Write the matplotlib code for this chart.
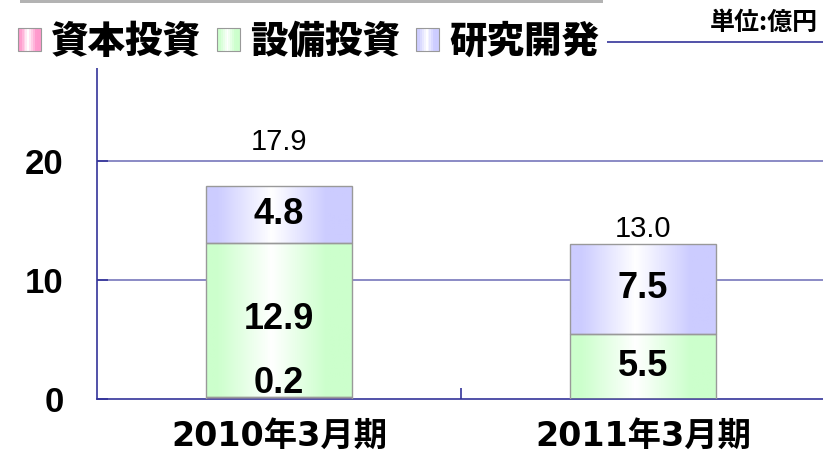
import numpy as np
import matplotlib
matplotlib.use("Agg")
import matplotlib.pyplot as plt
from matplotlib.patches import Rectangle
from matplotlib.legend_handler import HandlerBase
from matplotlib.colors import to_rgb

# -- Donnees ------------------------------------------------------------------
categories = ["2010年3月期", "2011年3月期"]
series     = ["資本投資", "設備投資", "研究開発"]
capital    = [0.2, 0.0]
equipment  = [12.9, 5.5]
research   = [4.8, 7.5]
totals     = [17.9, 13.0]

colors   = ["#ff99cc", "#ccffcc", "#ccccff"]
JP       = ["Noto Sans CJK JP", "DejaVu Sans"]
CAT      = ["DejaVu Sans", "Noto Sans CJK JP"]
NUM      = ["Liberation Sans", "DejaVu Sans"]
NAVY     = "#333399"
GRID     = "#7777bb"


def gradient_rgb(color, n=64):
    """Degrade horizontal : couleur sur les bords, blanc vers le centre."""
    x = np.linspace(0, 1, n)
    s = np.clip(np.abs(x - 0.45) / 0.38, 0, 1)
    c = np.array(to_rgb(color))
    return 1 - s[:, None] * (1 - c[None, :])


class GradientHandler(HandlerBase):
    def create_artists(self, legend, orig_handle, xdescent, ydescent,
                       width, height, fontsize, trans):
        side = min(width, height)
        x0 = -xdescent + (width - side) / 2
        y0 = -ydescent + (height - side) / 2
        cols = gradient_rgb(orig_handle.get_facecolor(), 12)
        arts = []
        for i, c in enumerate(cols):
            arts.append(Rectangle((x0 + i * side / len(cols), y0), side / len(cols) + 0.3, side,
                                  facecolor=c, edgecolor="none", transform=trans))
        arts.append(Rectangle((x0, y0), side, side, facecolor="none",
                              edgecolor="#999999", lw=0.8, transform=trans))
        return arts


fig = plt.figure(figsize=(8.23, 4.53), dpi=100)
ax = fig.add_axes([97 / 823, 1 - 399 / 453, 728 / 823, 357 / 453])

x = np.arange(len(categories))
width = 0.40
bottoms = np.zeros(len(categories))
stack = [capital, equipment, research]
all_bars = []
for vals, col in zip(stack, colors):
    bars = ax.bar(x, vals, width, bottom=bottoms, facecolor="none",
                  edgecolor="#999999", linewidth=1.0, zorder=3)
    for b in bars:
        if b.get_height() <= 0:
            continue
        grad = gradient_rgb(col)[None, :, :]
        im = ax.imshow(grad, aspect="auto", zorder=2.5,
                       extent=(b.get_x(), b.get_x() + b.get_width(),
                               b.get_y(), b.get_y() + b.get_height()))
        im.set_clip_path(b)
    all_bars.append(bars)
    bottoms = bottoms + np.array(vals)

# -- Etiquettes ---------------------------------------------------------------
for vals, bars in zip(stack, all_bars):
    for v, b in zip(vals, bars):
        if v <= 0:
            continue
        cx = b.get_x() + b.get_width() / 2
        if v < 1:
            ax.annotate(f"{v:.1f}", (cx, b.get_y() + v), xytext=(0, 2.5),
                        textcoords="offset points", ha="center", va="baseline",
                        fontsize=26, fontweight="bold", family=NUM, zorder=5)
        else:
            ax.text(cx, b.get_y() + v / 2, f"{v:.1f}", ha="center", va="center",
                    fontsize=26, fontweight="bold", family=NUM, zorder=5)

total_offsets = [26, 5.5]
for xi, t, off in zip(x, totals, total_offsets):
    ax.annotate(f"{t:.1f}", (xi, t), xytext=(0, off), textcoords="offset points",
                ha="center", va="baseline", fontsize=21, family=NUM, zorder=5)

# -- Axes ---------------------------------------------------------------------
ax.set_xlim(-0.5, 1.5)
ax.set_ylim(0, 30)
ax.set_yticks([0, 10, 20])
ax.set_yticklabels(["0", "10", "20"], fontsize=25, fontweight="bold", family=NUM)
ax.set_xticks(x)
ax.set_xticklabels(categories, fontsize=24, fontweight="bold", family=CAT)
ax.set_xticks([0.5], minor=True)
ax.tick_params(axis="x", which="major", length=0, pad=15)
ax.tick_params(axis="x", which="minor", direction="in", length=8, color=NAVY, width=1.2)
ax.tick_params(axis="y", direction="in", length=8, color=NAVY, width=1.2, pad=24)
for yv in [10, 20]:
    ax.axhline(yv, color=GRID, lw=1.2, zorder=1)
for s in ["left", "bottom", "top"]:
    ax.spines[s].set_color(NAVY)
    ax.spines[s].set_linewidth(1.2)
ax.spines["right"].set_visible(False)

# -- Legende ------------------------------------------------------------------
handles = [Rectangle((0, 0), 1, 1, facecolor=c) for c in colors]
leg = ax.legend(handles, series, loc="center left", bbox_to_anchor=(-0.119, 1.0),
                ncol=3, frameon=True, facecolor="white", edgecolor="none", framealpha=1,
                fancybox=False, borderpad=0.2, borderaxespad=0,
                handlelength=0.61, handleheight=0.61,
                handletextpad=0.27, columnspacing=0.43,
                handler_map={Rectangle: GradientHandler()},
                prop={"family": JP, "size": 27, "weight": "heavy"})
leg.set_zorder(10)

fig.text(0.994, 1 - 23 / 453, "単位:億円", ha="right", va="center",
         fontsize=18, fontweight="bold", family=JP)
fig.add_artist(Rectangle((20 / 823, 1 - 3 / 453), 583 / 823, 3 / 453,
                         transform=fig.transFigure, facecolor="#b3b3b3", edgecolor="none"))

plt.savefig("out.png", dpi=100)
plt.close()
